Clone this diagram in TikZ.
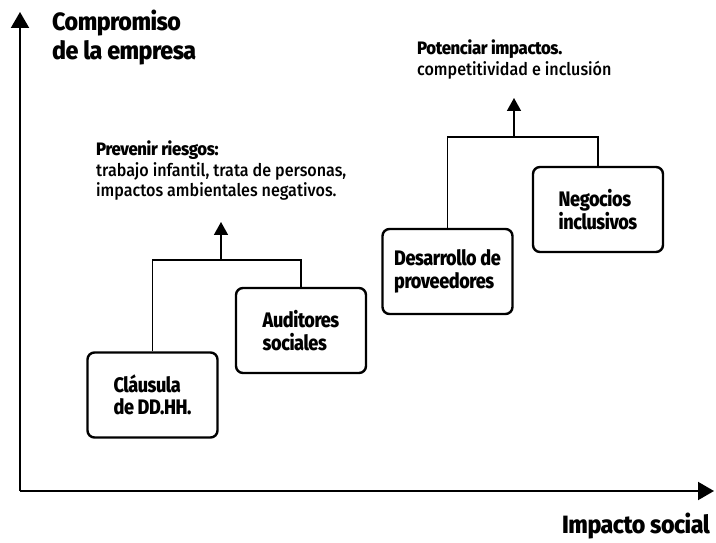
\documentclass[tikz,border=0pt]{standalone}
\usepackage{fontspec}
\setmainfont{Fira Sans}
\newfontfamily\negrita{Fira Sans ExtraBold}[FakeStretch=0.86, LetterSpace=-2]
\newfontfamily\titular{Fira Sans ExtraBold}[FakeStretch=0.93, LetterSpace=-2]
\newfontfamily\medio{Fira Sans Medium}[FakeStretch=0.92]
\usetikzlibrary{arrows.meta}
\begin{document}
\begin{tikzpicture}[x=1pt, y=1pt,
  caja/.style={draw, rectangle, rounded corners=7pt, line width=2.4pt, minimum width=130pt, minimum height=85pt, align=left, font=\fontsize{21}{22.5}\selectfont\negrita},
  eje/.style={line width=2pt, -{Triangle[width=18pt,length=16pt]}},
  rama/.style={line width=1.6pt},
  flecha/.style={line width=1.6pt, -{Triangle[width=14pt,length=13pt]}},
  nota/.style={anchor=north west, align=left, inner sep=0pt, font=\fontsize{17.5}{20.5}\selectfont\medio},
  titulo/.style={align=left, inner sep=0pt, font=\fontsize{25}{29}\selectfont\titular}]
  \useasboundingbox (0,0) rectangle (716,542);

  % ejes
  \coordinate (origen) at (20,51);
  \coordinate (ytip) at (20,530);
  \coordinate (xtip) at (714,51);
  \draw [eje] (origen) -- (ytip);
  \draw [eje] (origen) -- (xtip);
  \node (compromiso) [titulo, anchor=north west] at (52,532) {Compromiso\\de la empresa};
  \node (impacto) [titulo, anchor=south east] at (710,3) {Impacto social};

  % prevenir riesgos
  \node (clausula) [caja] at (152.5,147) {Cláusula\\de DD.HH.};
  \node (auditores) [caja] at (301,211.5) {Auditores\\sociales};
  \node (riesgos) [nota] at (96,401) {{\fontsize{18}{23}\selectfont\titular Prevenir riesgos:}\\ trabajo infantil, trata de personas,\\impactos ambientales negativos.};
  \coordinate (riesgosjoin) at (221,282);
  \coordinate (riesgostip) at (221,320);
  \draw [rama] (clausula.north) |- (riesgosjoin) -| (auditores.north);
  \draw [flecha] (riesgosjoin) -- (riesgostip);

  % potenciar impactos
  \node (desarrollo) [caja] at (447.5,270.5) {Desarrollo de\\proveedores};
  \node (negocios) [caja] at (598,332.5) {Negocios\\inclusivos};
  \node (potenciar) [nota] at (417,502) {{\fontsize{18}{23}\selectfont\titular Potenciar impactos.}\\ competitividad e inclusión};
  \coordinate (potenciarjoin) at (514,405);
  \coordinate (potenciartip) at (514,444);
  \draw [rama] (desarrollo.north) |- (potenciarjoin) -| (negocios.north);
  \draw [flecha] (potenciarjoin) -- (potenciartip);
\end{tikzpicture}
\end{document}
